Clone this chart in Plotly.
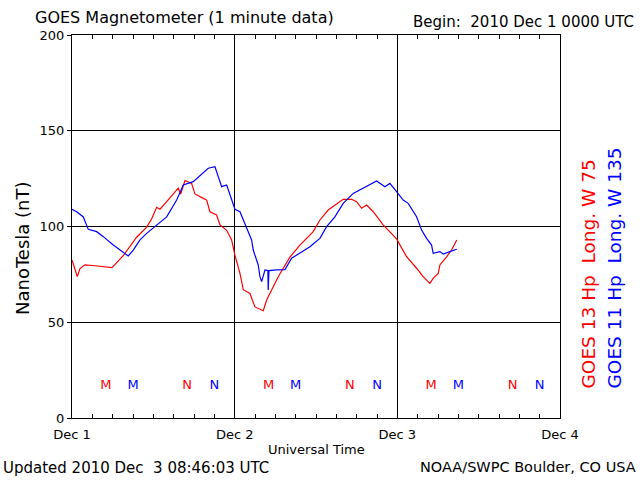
import pandas as pd
import plotly.graph_objects as go

# Hours since 2010-12-01 00:00 UTC and field values (nT)
g13_hours = [0.0, 0.78, 1.18, 1.92, 3.4, 5.31, 5.9, 7.52, 9.54, 11.02, 11.76, 12.49, 12.98,
             13.97, 15.68, 16.03, 16.67, 17.65, 18.14, 19.37, 19.87, 20.35, 21.34, 21.83,
             22.82, 23.55, 24.04, 24.78, 25.27, 26.25, 26.99, 28.22, 28.72, 29.45, 30.43,
             32.15, 33.63, 35.59, 36.58, 37.8, 38.79, 40.01, 41.25, 41.99, 42.73, 43.47,
             44.44, 45.91, 47.89, 49.37, 50.84, 51.81, 52.8, 53.29, 54.03, 54.28, 55.27,
             56.0, 56.77]
g13_values = [82.5, 73.8, 78.0, 80.0, 79.5, 79.0, 78.5, 84.6, 94.4, 99.7, 104.0, 110.0, 109.0,
              113.0, 120.0, 117.0, 124.0, 122.5, 117.0, 114.7, 113.8, 107.7, 106.0, 100.8,
              98.0, 93.0, 85.0, 75.5, 67.0, 65.0, 58.0, 56.0, 61.6, 66.8, 73.8,
              84.0, 90.3, 97.3, 103.4, 108.6, 111.2, 114.2, 114.2, 113.0, 109.5, 111.2,
              107.7, 100.8, 93.5, 84.2, 78.2, 73.8, 70.3, 72.9, 75.5, 79.9, 84.2,
              87.7, 93.0]

g11_hours = [0.0, 0.69, 1.67, 2.4, 3.64, 4.62, 6.09, 7.08, 8.3, 9.04, 10.03, 11.02, 12.49,
             13.97, 15.44, 16.42, 17.89, 19.37, 20.1, 21.09, 21.58, 22.08, 22.82, 23.3,
             24.04, 24.78, 25.77, 26.5, 26.74, 27.48, 27.73, 27.98, 28.47, 28.9, 28.95,
             29.06, 30.19, 31.42, 32.4, 33.63, 35.1, 36.58, 37.57, 38.79, 40.01, 41.49,
             42.96, 44.94, 46.17, 46.9, 47.89, 48.86, 49.6, 50.84, 51.58, 52.32, 53.05,
             53.29, 54.28, 54.77, 55.75, 56.77]
g11_values = [109.0, 107.7, 105.0, 98.5, 97.3, 94.7, 90.3, 87.7, 84.6, 87.7, 93.0, 96.4, 100.8,
              105.0, 113.8, 121.7, 123.4, 127.8, 130.4, 131.2, 126.0, 120.8, 121.7, 117.0,
              109.0, 107.7, 99.0, 93.0, 87.7, 79.9, 73.8, 71.2, 77.3, 77.0, 66.8,
              77.0, 77.3, 77.5, 83.4, 86.0, 89.4, 93.8, 99.9, 105.0, 112.1, 117.3,
              120.0, 123.8, 120.8, 122.5, 118.2, 113.8, 112.1, 105.1, 98.2, 93.8, 90.3,
              86.0, 86.9, 85.6, 86.9, 88.1]

# Local midnight (M) and noon (N) markers, hours since start
g13_m_hours = [5, 29, 53]
g13_n_hours = [17, 41, 65]
g11_m_hours = [9, 33, 57]
g11_n_hours = [21, 45, 69]
marker_level = 17

start = pd.Timestamp("2010-12-01 00:00")
def to_time(hours):
    return [start + pd.Timedelta(hours=h) for h in hours]

RED = "#ff0000"
BLUE = "#0000ff"
FONT = "DejaVu Sans"

fig = go.Figure()
fig.add_trace(go.Scatter(x=to_time(g13_hours), y=g13_values, mode="lines",
                         line=dict(color=RED, width=1.2), showlegend=False))
fig.add_trace(go.Scatter(x=to_time(g11_hours), y=g11_values, mode="lines",
                         line=dict(color=BLUE, width=1.2), showlegend=False))

for hrs, txt, col in [(g13_m_hours, "M", RED), (g11_m_hours, "M", BLUE),
                      (g13_n_hours, "N", RED), (g11_n_hours, "N", BLUE)]:
    fig.add_trace(go.Scatter(x=to_time(hrs), y=[marker_level] * len(hrs), mode="text",
                             text=[txt] * len(hrs),
                             textfont=dict(color=col, size=13, family=FONT),
                             showlegend=False, hoverinfo="skip"))

fig.update_layout(
    width=640, height=480,
    margin=dict(l=72, r=80, t=35, b=62),
    paper_bgcolor="white", plot_bgcolor="white",
    font=dict(family=FONT, color="black", size=13),
    xaxis=dict(type="date",
               range=[start, start + pd.Timedelta(days=3)],
               dtick=86400000, tick0="2010-12-01", tickformat="%b %-d",
               ticks="inside", ticklen=4, tickcolor="black",
               showgrid=True, gridcolor="black", gridwidth=1,
               showline=True, linecolor="black", linewidth=1, mirror="ticks",
               minor=dict(dtick=3 * 3600000, ticks="inside", ticklen=4,
                          tickcolor="black", showgrid=False),
               ticklabelstandoff=4,
               tickfont=dict(size=13), zeroline=False),
    yaxis=dict(range=[0, 200], tickvals=[0, 50, 100, 150, 200],
               ticks="outside", ticklen=4, tickcolor="black",
               showgrid=True, gridcolor="black", gridwidth=1,
               showline=True, linecolor="black", linewidth=1, mirror=True,
               tickfont=dict(size=13), zeroline=False),
)

def px_x(px):
    return (px - 72) / 488.0

def px_y(py):
    return (418 - py) / 383.0

annos = [
    dict(text="GOES Magnetometer (1 minute data)", x=px_x(33), y=px_y(18),
         xanchor="left", yanchor="middle", font=dict(size=16)),
    dict(text="Begin:  2010 Dec 1 0000 UTC", x=px_x(636), y=px_y(22),
         xanchor="right", yanchor="middle", font=dict(size=15)),
    dict(text="NanoTesla (nT)", x=px_x(22), y=px_y(248), textangle=-90,
         xanchor="center", yanchor="middle", font=dict(size=18)),
    dict(text="Universal Time", x=0.5, y=px_y(449),
         xanchor="center", yanchor="middle", font=dict(size=13)),
    dict(text="Updated 2010 Dec  3 08:46:03 UTC", x=px_x(1), y=px_y(468),
         xanchor="left", yanchor="middle", font=dict(size=15)),
    dict(text="NOAA/SWPC Boulder, CO USA", x=px_x(638), y=px_y(467),
         xanchor="right", yanchor="middle", font=dict(size=14.5)),
    dict(text="GOES 13 Hp  Long. W 75", x=px_x(588), y=px_y(391), textangle=-90,
         xanchor="center", yanchor="bottom", font=dict(size=18.5, color=RED)),
    dict(text="GOES 11 Hp  Long. W 135", x=px_x(614), y=px_y(391), textangle=-90,
         xanchor="center", yanchor="bottom", font=dict(size=18.5, color=BLUE)),
]
for a in annos:
    a.update(xref="paper", yref="paper", showarrow=False)
    a["text"] = a["text"].replace("  ", "&nbsp; ")
    fig.add_annotation(**a)

fig.write_html("out.html", config={"displayModeBar": False},
               post_script="document.body.style.margin='0';document.body.style.padding='0';")
